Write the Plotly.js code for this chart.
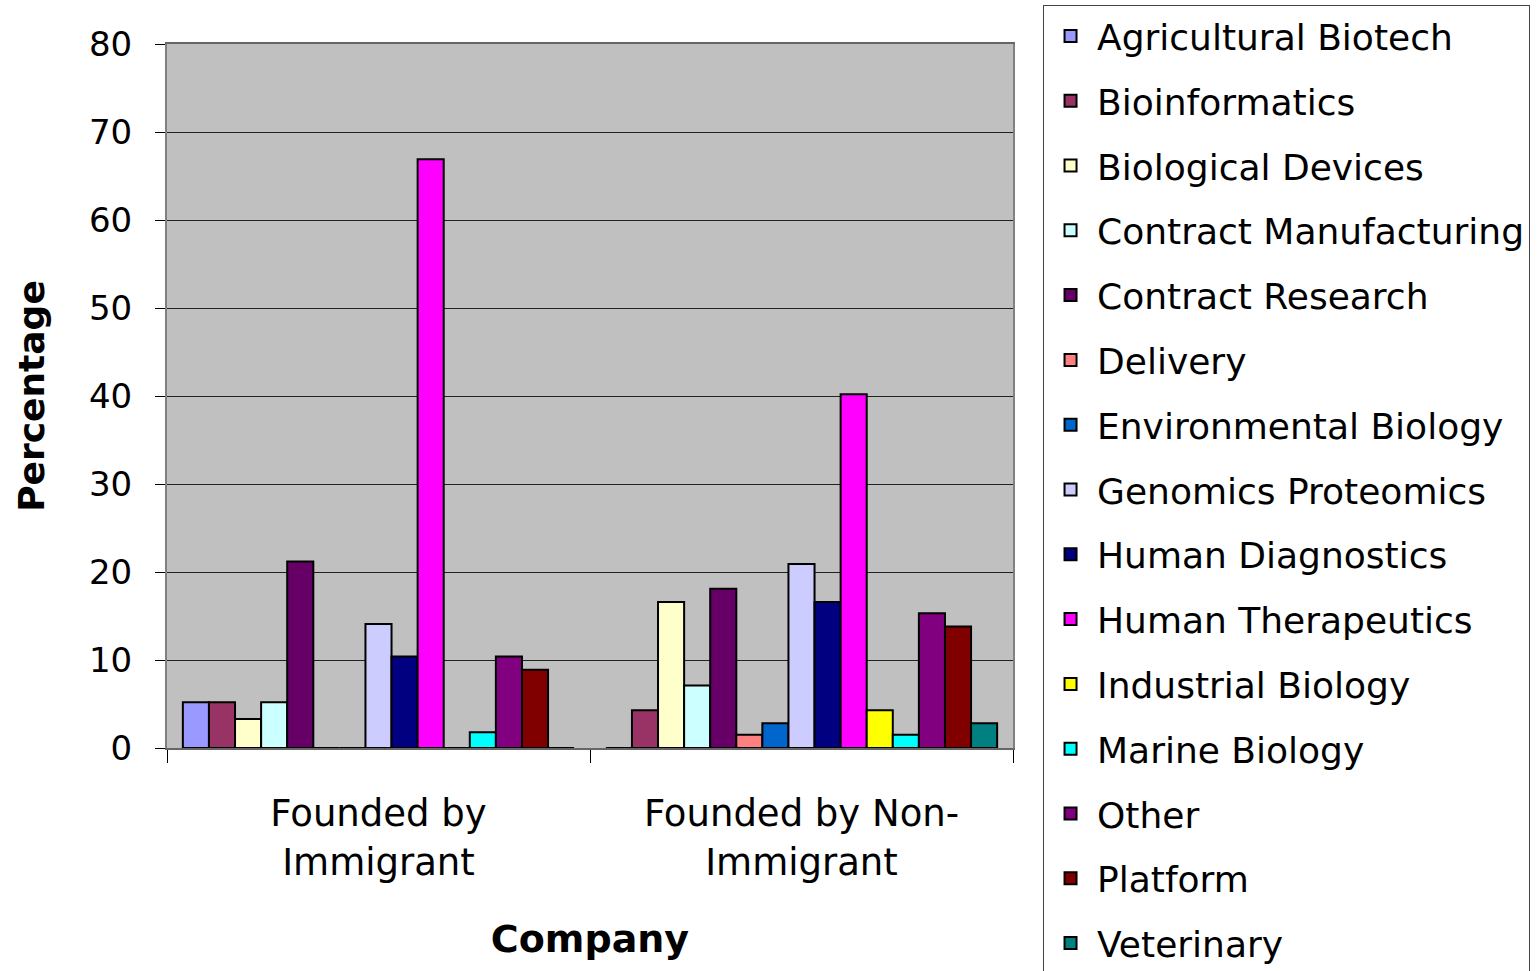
<!DOCTYPE html>
<html>
<head>
<meta charset="utf-8">
<script src="https://cdn.plot.ly/plotly-3.0.1.min.js"></script>
<style>html,body{margin:0;padding:0;background:#fff;}#chart{width:1538px;height:971px;}</style>
</head>
<body>
<div id="chart"></div>
<script>
const categories = ["Founded by<br>Immigrant", "Founded by Non-<br>Immigrant"];
const seriesNames = ["Agricultural Biotech","Bioinformatics","Biological Devices","Contract Manufacturing","Contract Research","Delivery","Environmental Biology","Genomics Proteomics","Human Diagnostics","Human Therapeutics","Industrial Biology","Marine Biology","Other","Platform","Veterinary"];
const agriculturalBiotech = [5.2, 0];
const bioinformatics = [5.2, 4.3];
const biologicalDevices = [3.3, 16.6];
const contractManufacturing = [5.2, 7.1];
const contractResearch = [21.2, 18.1];
const delivery = [0, 1.5];
const environmentalBiology = [0, 2.8];
const genomicsProteomics = [14.1, 20.9];
const humanDiagnostics = [10.4, 16.6];
const humanTherapeutics = [66.9, 40.2];
const industrialBiology = [0, 4.3];
const marineBiology = [1.8, 1.5];
const other = [10.4, 15.3];
const platform = [8.9, 13.8];
const veterinary = [0, 2.8];
const seriesValues = [agriculturalBiotech, bioinformatics, biologicalDevices, contractManufacturing, contractResearch, delivery, environmentalBiology, genomicsProteomics, humanDiagnostics, humanTherapeutics, industrialBiology, marineBiology, other, platform, veterinary];
const colors = ["#9999FF","#993366","#FFFFCC","#CCFFFF","#660066","#FF8080","#0066CC","#CCCCFF","#000080","#FF00FF","#FFFF00","#00FFFF","#800080","#800000","#008080"];
const yTicks = [0,10,20,30,40,50,60,70,80];

const FONT = "DejaVu Sans, Arial, sans-serif";
const traces = seriesNames.map((name, i) => ({
  type: "bar",
  name: name,
  x: categories,
  y: seriesValues[i],
  legendgroup: "g" + i,
  marker: {color: colors[i], line: {color: "#000", width: 2}},
  hoverinfo: "name+y"
}));

const layout = {
  width: 1538, height: 971,
  paper_bgcolor: "#ffffff",
  plot_bgcolor: "#C0C0C0",
  margin: {l: 167, r: 525, t: 44, b: 223, pad: 0, autoexpand: false},
  barmode: "group",
  bargap: 0.075,
  bargroupgap: 0,
  font: {family: FONT, color: "#000", size: 34},
  xaxis: {
    type: "category",
    tickson: "boundaries",
    ticks: "outside", ticklen: 13, tickcolor: "#000", tickwidth: 1,
    tickfont: {family: FONT, size: 37, color: "#000"},
    ticklabelstandoff: 32,
    showline: true, linecolor: "#666", linewidth: 2, mirror: true,
    showgrid: false, zeroline: false,
    title: {text: "<b>Company</b>", font: {family: FONT, size: 38, color: "#000"}, standoff: 43},
    automargin: false
  },
  yaxis: {
    range: [0, 80],
    tickvals: yTicks,
    ticktext: yTicks.map(String),
    ticks: "outside", ticklen: 10, tickcolor: "#000", tickwidth: 1,
    tickfont: {family: FONT, size: 34, color: "#000"},
    ticklabelstandoff: 16,
    showline: true, linecolor: "#808080", linewidth: 2, mirror: true,
    showgrid: true, gridcolor: "#222", gridwidth: 1,
    zeroline: false,
    title: {text: "<b>Percentage</b>", font: {family: FONT, size: 36, color: "#000"}, standoff: 33},
    automargin: false
  },
  legend: {
    x: 1.0355, xanchor: "left",
    y: 1.0554, yanchor: "top",
    maxheight: 980,
    bgcolor: "#ffffff",
    bordercolor: "#444", borderwidth: 1,
    font: {family: FONT, size: 36, color: "#000"},
    traceorder: "grouped",
    tracegroupgap: 15,
    itemwidth: 43,
    itemclick: false, itemdoubleclick: false
  },
  showlegend: true
};

Plotly.newPlot("chart", traces, layout, {displayModeBar: false, staticPlot: true});
</script>
</body>
</html>
